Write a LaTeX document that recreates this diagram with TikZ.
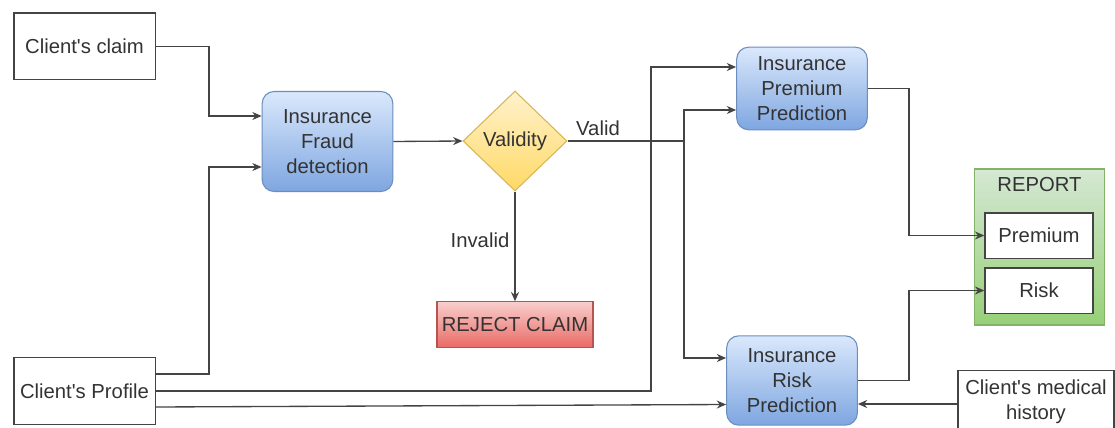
\documentclass[tikz,border=0pt]{standalone}
\usepackage{fontspec}
\setmainfont{Liberation Sans}
\usetikzlibrary{arrows.meta,shapes.geometric,calc}
\definecolor{txt}{HTML}{333333}
\definecolor{ln}{HTML}{444444}
\definecolor{pb}{HTML}{6C8EBF}
\definecolor{ptop}{HTML}{DAE8FC}
\definecolor{pbot}{HTML}{7EA6E0}
\definecolor{yb}{HTML}{D6B656}
\definecolor{ytop}{HTML}{FFF2CC}
\definecolor{ybot}{HTML}{FFD966}
\definecolor{rb}{HTML}{B85450}
\definecolor{rtop}{HTML}{F8CECC}
\definecolor{rbot}{HTML}{EA6B66}
\definecolor{gb}{HTML}{82B366}
\definecolor{gtop}{HTML}{D5E8D4}
\definecolor{gbot}{HTML}{97D077}
\begin{document}
\begin{tikzpicture}[x=0.75pt,y=-0.75pt,
  every node/.style={text=txt,font=\fontsize{15.2}{18.8}\selectfont,align=center,inner sep=0pt},
  plain/.style={draw=ln,line width=1pt,fill=white,minimum width=106pt,minimum height=50pt},
  proc/.style={draw=pb,line width=0.8pt,rounded corners=9pt,top color=ptop,bottom color=pbot,minimum width=98pt},
  conn/.style={draw=ln,line width=1pt,-{Stealth[length=7pt,width=6pt]}},
  line/.style={draw=ln,line width=1pt}]
\useasboundingbox (0,0) rectangle (1115,428);
\clip (0,0) rectangle (1115,428);
% nodes
\node[plain] (claim) at (84.5,46.5) {Client\textquotesingle s claim};
\node[plain] (prof) at (84.5,391) {Client\textquotesingle s Profile};
\node[proc,minimum height=75pt] (fraud) at (327.5,141.5) {Insurance\\Fraud\\detection};
\node[diamond,draw=yb,line width=0.8pt,top color=ytop,bottom color=ybot,minimum width=78pt,minimum height=75pt,aspect=1] (val) at (515,141) {Validity};
\node[draw=rb,line width=0.8pt,top color=rtop,bottom color=rbot,minimum width=117pt,minimum height=34pt] (rej) at (515,324.5) {REJECT CLAIM};
\node[proc,minimum height=62pt] (prem) at (802,88.5) {Insurance\\Premium\\Prediction};
\node[proc,minimum height=67pt] (risk) at (792,380.5) {Insurance\\Risk\\Prediction};
\node[draw=gb,line width=0.8pt,top color=gtop,bottom color=gbot,minimum width=97pt,minimum height=117pt] (rep) at (1039.5,247) {};
\node (reptitle) at (1039.5,185) {REPORT};
\node[plain,minimum width=81pt,minimum height=34pt] (rprem) at (1039,235.5) {Premium};
\node[plain,minimum width=81pt,minimum height=34pt] (rrisk) at (1039,290.5) {Risk};
\node[plain,minimum width=117pt,minimum height=47pt] (med) at (1036,402) {Client\textquotesingle s medical\\history};
% labels
\node (lvalid) at (598,128) {Valid};
\node (linv) at (480,240) {Invalid};
% connectors
\draw[conn] (claim.east) -| (209,116) -- (fraud.west |- 0,116);
\draw[conn] ($(prof.east)+(0,-17)$) -| (209,167) -- (fraud.west |- 0,167);
\draw[conn] (prof.east) -| (651,67) -- (prem.west |- 0,67);
\draw[conn] ($(prof.east)+(0,16)$) -- ($(risk.west)+(0,24)$);
\draw[conn] (fraud.east) -- (val.west);
\draw[line] (val.east) -- (684,141);
\draw[conn] (684,141) |- (prem.west |- 0,110);
\draw[conn] (684,141) |- (risk.west |- 0,358);
\draw[conn] (val.south) -- (rej.north);
\draw[conn] (prem.east) -| (909,235.5) -- (rprem.west);
\draw[conn] (risk.east) -| (909,290.5) -- (rrisk.west);
\draw[conn] (med.west |- 0,404) -- (risk.east |- 0,404);
\end{tikzpicture}
\end{document}
